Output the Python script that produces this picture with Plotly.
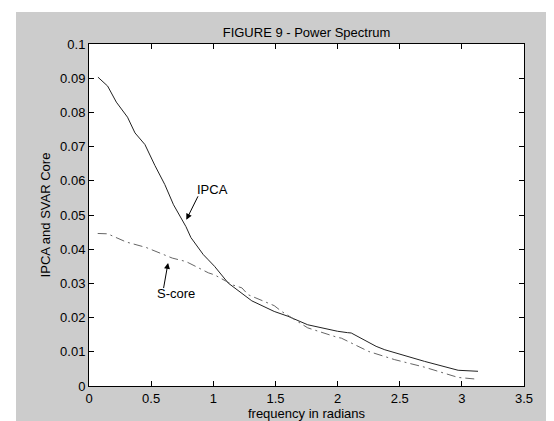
import plotly.graph_objects as go

# IPCA power spectrum (solid)
ipca_freq = [0.072, 0.15, 0.22, 0.31, 0.37, 0.45, 0.53, 0.61, 0.68, 0.74, 0.78, 0.82,
             0.92, 0.96, 1.01, 1.12, 1.28, 1.31, 1.49, 1.60, 1.76, 2.00, 2.08, 2.11,
             2.31, 2.38, 2.70, 2.97, 3.13]
ipca_power = [0.0903, 0.0877, 0.0830, 0.0786, 0.0740, 0.0706, 0.0645, 0.0589, 0.0530,
              0.0493, 0.0466, 0.0434, 0.0384, 0.0369, 0.0350, 0.0301, 0.0257, 0.0249,
              0.0218, 0.0204, 0.0179, 0.0160, 0.0156, 0.0155, 0.0116, 0.0106, 0.0072,
              0.0046, 0.0043]

# S-core power spectrum (dash-dot)
score_freq = [0.07, 0.15, 0.30, 0.46, 0.67, 0.78, 0.96, 1.01, 1.16, 1.23, 1.28, 1.49,
              1.55, 1.76, 2.00, 2.03, 2.25, 2.46, 2.70, 2.97, 3.12]
score_power = [0.0446, 0.0445, 0.0421, 0.0405, 0.0374, 0.0364, 0.0331, 0.0325, 0.0295,
               0.0287, 0.0267, 0.0235, 0.0218, 0.0170, 0.0142, 0.0140, 0.0101, 0.0077,
               0.0055, 0.0025, 0.0020]

x_ticks = [0, 0.5, 1, 1.5, 2, 2.5, 3, 3.5]
x_tick_labels = ["0", "0.5", "1", "1.5", "2", "2.5", "3", "3.5"]
y_ticks = [0, 0.01, 0.02, 0.03, 0.04, 0.05, 0.06, 0.07, 0.08, 0.09, 0.1]
y_tick_labels = ["0", "0.01", "0.02", "0.03", "0.04", "0.05", "0.06", "0.07", "0.08", "0.09", "0.1"]

title_text = "FIGURE 9 - Power Spectrum"
x_label = "frequency in radians"
y_label = "IPCA and SVAR Core"

FONT = "Liberation Sans, Arial, sans-serif"

fig = go.Figure()
fig.add_trace(go.Scatter(x=ipca_freq, y=ipca_power, mode="lines",
                         line=dict(color="#222222", width=1), name="IPCA",
                         showlegend=False))
fig.add_trace(go.Scatter(x=score_freq, y=score_power, mode="lines",
                         line=dict(color="#666666", width=1, dash="9px,4px,2px,4px"),
                         name="S-core", showlegend=False))

# arrows
fig.add_annotation(x=0.783, y=0.0486, ax=0.883, ay=0.0559, xref="x", yref="y",
                   axref="x", ayref="y", text="", showarrow=True,
                   arrowhead=2, arrowsize=1.2, arrowwidth=1, arrowcolor="black")
fig.add_annotation(x=0.85, y=0.0575, xref="x", yref="y", text="IPCA",
                   showarrow=False, xanchor="left", yanchor="middle",
                   font=dict(family=FONT, size=13, color="black"))
fig.add_annotation(x=0.636, y=0.0360, ax=0.598, ay=0.0282, xref="x", yref="y",
                   axref="x", ayref="y", text="", showarrow=True,
                   arrowhead=2, arrowsize=1.2, arrowwidth=1, arrowcolor="black")
fig.add_annotation(x=0.53, y=0.0270, xref="x", yref="y", text="S-core",
                   showarrow=False, xanchor="left", yanchor="middle",
                   font=dict(family=FONT, size=13, color="black"))

# white strips at the figure edge
fig.add_shape(type="rect", xref="paper", yref="paper",
              x0=-81/435, x1=-73/435, y0=-43/342, y1=378/342,
              fillcolor="white", line=dict(width=0), layer="below")
fig.add_shape(type="rect", xref="paper", yref="paper",
              x0=-81/435, x1=473/435, y0=374/342, y1=378/342,
              fillcolor="white", line=dict(width=0), layer="below")

fig.update_layout(
    width=554, height=421,
    margin=dict(l=81, r=38, t=36, b=43, autoexpand=False),
    paper_bgcolor="#cccccc", plot_bgcolor="white",
    font=dict(family=FONT, size=13, color="black"),
    title=dict(text=title_text, x=(298.5) / 554, xanchor="center",
               y=1 - 24 / 421, yanchor="middle",
               font=dict(family=FONT, size=13, color="black")),
)
fig.update_xaxes(range=[0, 3.5], tickvals=x_ticks, ticktext=x_tick_labels,
                 ticks="inside", ticklen=5, tickcolor="black", tickwidth=1,
                 showline=True, linecolor="black", linewidth=1, mirror="ticks",
                 showgrid=False, zeroline=False,
                 title=dict(text=x_label, standoff=4, font=dict(family=FONT, size=13)),
                 tickfont=dict(family=FONT, size=13))
fig.update_yaxes(range=[0, 0.1], tickvals=y_ticks, ticktext=y_tick_labels,
                 ticks="inside", ticklen=5, tickcolor="black", tickwidth=1,
                 showline=True, linecolor="black", linewidth=1, mirror="ticks",
                 showgrid=False, zeroline=False,
                 title=dict(text=y_label, standoff=6, font=dict(family=FONT, size=13)),
                 tickfont=dict(family=FONT, size=13))

fig.write_html("out.html")
